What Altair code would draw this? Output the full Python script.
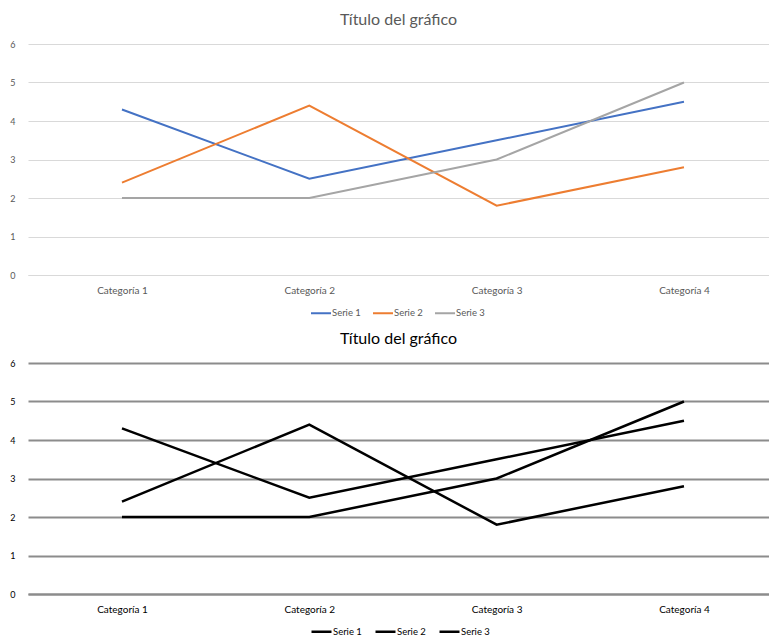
import altair as alt
import pandas as pd

categories = ["Categoría 1", "Categoría 2", "Categoría 3", "Categoría 4"]
series_names = ["Serie 1", "Serie 2", "Serie 3"]
serie1 = [4.3, 2.5, 3.5, 4.5]
serie2 = [2.4, 4.4, 1.8, 2.8]
serie3 = [2, 2, 3, 5]
y_ticks = [0, 1, 2, 3, 4, 5, 6]
chart_title = "Título del gráfico"

rows = []
for name, vals in zip(series_names, [serie1, serie2, serie3]):
    for c, v in zip(categories, vals):
        rows.append({"Categoría": c, "Serie": name, "Valor": v})
df = pd.DataFrame(rows)

FONT = "Lato"


def make_chart(colors, grid_color, grid_width, line_width, text_color,
               title_color, title_size, legend_y):
    return alt.Chart(df).mark_line(strokeWidth=line_width, strokeCap="butt").encode(
        x=alt.X("Categoría:N", sort=categories,
                scale=alt.Scale(type="point", padding=0.4778, align=0.525),
                axis=alt.Axis(title=None, labelAngle=0, ticks=False, domain=True,
                              domainColor=grid_color, domainWidth=grid_width,
                              labelPadding=10, labelFontSize=10, labelColor=text_color,
                              labelFont=FONT, grid=False)),
        y=alt.Y("Valor:Q", scale=alt.Scale(domain=[0, 6], nice=False),
                axis=alt.Axis(title=None, values=y_ticks, grid=True, gridColor=grid_color,
                              gridWidth=grid_width, domain=False, ticks=False,
                              labelPadding=13, labelFontSize=9, labelColor=text_color,
                              labelFont=FONT, minExtent=28, maxExtent=28)),
        color=alt.Color("Serie:N", sort=series_names,
                        scale=alt.Scale(domain=series_names, range=colors),
                        legend=alt.Legend(title=None, orient="none", direction="horizontal",
                                          legendX=282, legendY=legend_y,
                                          symbolType="stroke", symbolSize=400,
                                          symbolStrokeWidth=line_width,
                                          labelFontSize=9.5, labelColor=text_color,
                                          labelFont=FONT, labelOffset=0,
                                          columnPadding=8)),
    ).properties(
        width=741, height=231,
        title=alt.TitleParams(chart_title, fontSize=title_size, font=FONT,
                              fontWeight="normal", color=title_color,
                              anchor="middle", offset=12),
    )


top = make_chart(["#4472C4", "#ED7D31", "#A5A5A5"], "#D9D9D9", 1, 2,
                 "#595959", "#595959", 16, 258)
bottom = make_chart(["#000000", "#000000", "#000000"], "#8C8C8C", 2, 2.5,
                    "#000000", "#000000", 16, 257)

chart = alt.vconcat(top, bottom, spacing=13).resolve_scale(color="independent").configure(
    padding={"left": 0, "top": 12, "right": 0, "bottom": 0}
).configure_view(stroke=None)

chart.save("out.html", embed_options={"renderer": "svg", "actions": False})
